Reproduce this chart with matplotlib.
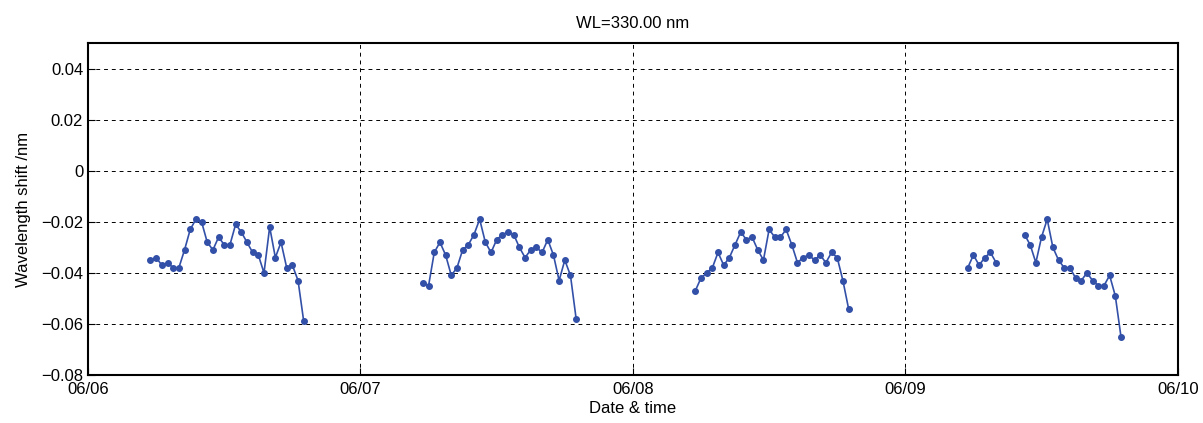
import datetime as dt
import numpy as np
import matplotlib
matplotlib.use('Agg')
import matplotlib.pyplot as plt
import matplotlib.dates as mdates

plt.rcParams['font.family'] = ['Liberation Sans', 'DejaVu Sans']
plt.rcParams['axes.unicode_minus'] = True

# 每段数据: 日期, 起始小时 (半小时间隔), 波长漂移值
day1_start = (6, 5.5)
day1_vals = [-0.035, -0.034, -0.037, -0.036, -0.038, -0.038, -0.031, -0.023,
             -0.019, -0.020, -0.028, -0.031, -0.026, -0.029, -0.029, -0.021,
             -0.024, -0.028, -0.032, -0.033, -0.040, -0.022, -0.034, -0.028,
             -0.038, -0.037, -0.043, -0.059]

day2_start = (7, 5.5)
day2_vals = [-0.044, -0.045, -0.032, -0.028, -0.033, -0.041, -0.038, -0.031,
             -0.029, -0.025, -0.019, -0.028, -0.032, -0.027, -0.025, -0.024,
             -0.025, -0.030, -0.034, -0.031, -0.030, -0.032, -0.027, -0.033,
             -0.043, -0.035, -0.041, -0.058]

day3_start = (8, 5.5)
day3_vals = [-0.047, -0.042, -0.040, -0.038, -0.032, -0.037, -0.034, -0.029,
             -0.024, -0.027, -0.026, -0.031, -0.035, -0.023, -0.026, -0.026,
             -0.023, -0.029, -0.036, -0.034, -0.033, -0.035, -0.033, -0.036,
             -0.032, -0.034, -0.043, -0.054]

day4a_start = (9, 5.5)
day4a_vals = [-0.038, -0.033, -0.037, -0.034, -0.032, -0.036]

day4b_start = (9, 10.5)
day4b_vals = [-0.025, -0.029, -0.036, -0.026, -0.019, -0.030, -0.035, -0.038,
              -0.038, -0.042, -0.043, -0.040, -0.043, -0.045, -0.045, -0.041,
              -0.049, -0.065]

segments = [(day1_start, day1_vals), (day2_start, day2_vals), (day3_start, day3_vals),
            (day4a_start, day4a_vals), (day4b_start, day4b_vals)]

times = []
values = []
for (day, h0), vals in segments:
    t0 = dt.datetime(2013, 6, day) + dt.timedelta(hours=h0)
    for i, v in enumerate(vals):
        times.append(t0 + dt.timedelta(minutes=30 * i))
        values.append(v)
    # 断开各段之间的连线
    times.append(times[-1] + dt.timedelta(minutes=15))
    values.append(np.nan)

fig = plt.figure(figsize=(12.03, 4.23), dpi=100)
ax = fig.add_axes([0.0732, 0.1135, 0.9058, 0.7845])

ax.plot(times, values, '-o', color='#3350a8', lw=1.2, ms=4)

ax.set_xlim(dt.datetime(2013, 6, 6), dt.datetime(2013, 6, 10))
ax.set_ylim(-0.08, 0.05)
ax.set_yticks([-0.08, -0.06, -0.04, -0.02, 0, 0.02, 0.04])
ax.set_yticklabels(['\u22120.08', '\u22120.06', '\u22120.04', '\u22120.02', '0', '0.02', '0.04'])
ax.xaxis.set_major_locator(mdates.DayLocator())
ax.xaxis.set_major_formatter(mdates.DateFormatter('%m/%d'))

ax.grid(True, color='black', linestyle=(0, (4, 4)), linewidth=0.7)
ax.tick_params(direction='in', length=5, labelsize=12, top=False, right=False)
ax.tick_params(axis='x', pad=5)
for s in ax.spines.values():
    s.set_linewidth(1.5)

ax.set_title('WL=330.00 nm', fontsize=12, pad=11)
ax.set_xlabel('Date & time', fontsize=12, labelpad=3)
ax.set_ylabel('Wavelength shift /nm', fontsize=12, labelpad=7)

plt.savefig('out.png', dpi=100)
